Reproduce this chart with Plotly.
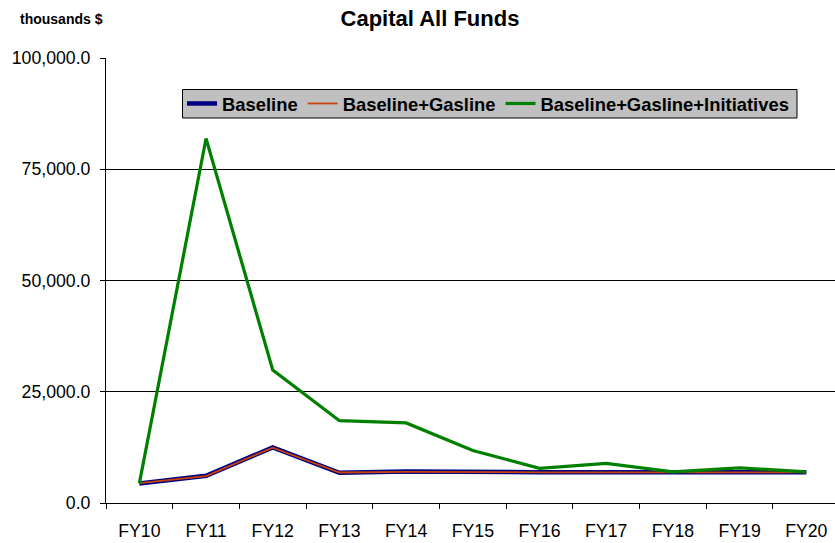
import plotly.graph_objects as go

# Fiscal years and capital spending (thousands of dollars)
years = ["FY10", "FY11", "FY12", "FY13", "FY14", "FY15", "FY16", "FY17", "FY18", "FY19", "FY20"]
baseline = [4400, 6100, 12500, 6800, 7100, 6900, 6900, 6900, 6900, 6900, 6900]
baseline_gasline = [4450, 6050, 12450, 6850, 7000, 6900, 6900, 6900, 6900, 6900, 6900]
baseline_gasline_initiatives = [4400, 81900, 29900, 18500, 18000, 11800, 7800, 8900, 7000, 7900, 7000]
y_ticks = [0, 25000, 50000, 75000, 100000]

W, H = 835, 543
ML, MR, MT, MB = 106, 0, 58, 40
plot_w = W - ML - MR
plot_h = H - MT - MB


def px_x(x):
    return (x - ML) / plot_w


def px_y(y):
    return (H - MB - y) / plot_h


FONT = "Liberation Sans, Arial, sans-serif"
TICK_SIZE = 17.7

fig = go.Figure()
fig.add_trace(go.Scatter(x=years, y=baseline, name="Baseline", mode="lines",
                         line=dict(color="#000080", width=4.5)))
fig.add_trace(go.Scatter(x=years, y=baseline_gasline, name="Baseline+Gasline", mode="lines",
                         line=dict(color="#C8420A", width=1.8)))
fig.add_trace(go.Scatter(x=years, y=baseline_gasline_initiatives, name="Baseline+Gasline+Initiatives",
                         mode="lines", line=dict(color="#008000", width=3.2)))

fig.update_layout(
    width=W, height=H,
    margin=dict(l=ML, r=MR, t=MT, b=MB, pad=0),
    paper_bgcolor="white", plot_bgcolor="white",
    font=dict(family=FONT, color="black", size=TICK_SIZE),
    title=dict(text="<b>Capital All Funds</b>", font=dict(size=22, family=FONT, color="black"),
               xref="container", x=430 / W, xanchor="center",
               yref="container", y=1 - 18 / H, yanchor="middle"),
    showlegend=True,
    legend=dict(orientation="h", x=px_x(182), xanchor="left",
                y=px_y(85), yanchor="top",
                bgcolor="rgba(0,0,0,0)", borderwidth=0,
                font=dict(size=18.4, family=FONT, color="black", weight="bold"),
                itemwidth=30, tracegroupgap=0),
    shapes=[dict(type="rect", xref="paper", yref="paper",
                 x0=px_x(182.5), x1=px_x(797), y0=px_y(118), y1=px_y(89.5),
                 fillcolor="#C0C0C0", line=dict(color="black", width=1), layer="above")],
    annotations=[dict(text="<b>thousands $</b>", xref="paper", yref="paper",
                      x=px_x(18), y=px_y(19),
                      xanchor="left", yanchor="middle", showarrow=False,
                      font=dict(size=14, family=FONT, color="black"))],
)

fig.update_xaxes(type="category", range=[-0.5, 10.43], tickson="boundaries",
                 ticks="outside", ticklen=5, tickcolor="black",
                 showline=True, linecolor="black", linewidth=1,
                 showgrid=False, zeroline=False, ticklabelstandoff=12,
                 tickfont=dict(size=TICK_SIZE, family=FONT, color="black"))
fig.update_yaxes(range=[0, 100000], tickvals=y_ticks, tickformat=",.1f",
                 ticks="outside", ticklen=5, tickcolor="black",
                 showline=True, linecolor="black", linewidth=1,
                 showgrid=True, gridcolor="black", gridwidth=1, zeroline=False,
                 ticklabelstandoff=6,
                 tickfont=dict(size=TICK_SIZE, family=FONT, color="black"))

fig.write_html("out.html")
